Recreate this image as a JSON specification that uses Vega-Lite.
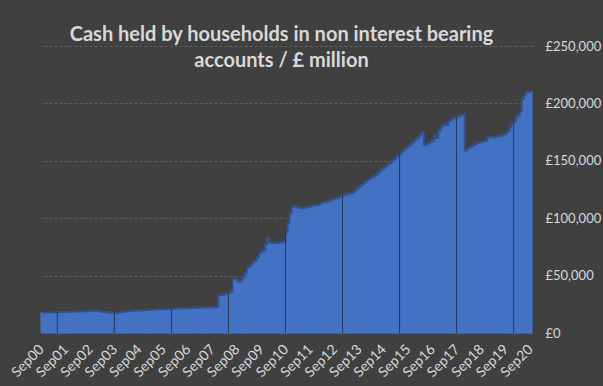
{
  "$schema": "https://vega.github.io/schema/vega-lite/v6.json",
  "width": 491,
  "height": 287,
  "autosize": {"type": "none"},
  "padding": {"left": 41, "top": 46, "right": 71, "bottom": 53},
  "background": "#404040",
  "config": {
    "view": {"stroke": null},
    "font": "Lato"
  },
  "title": {
    "text": ["Cash held by households in non interest bearing", "accounts / £ million"],
    "font": "Lato",
    "fontSize": 20,
    "fontWeight": "bold",
    "color": "#d9d9d9",
    "lineHeight": 26,
    "anchor": "middle",
    "offset": -31,
    "dx": -5
  },
  "data": {"values": [
    {"m":"Sep00","v":17700},{"m":"Oct00","v":17800},{"m":"Nov00","v":17800},{"m":"Dec00","v":17900},{"m":"Jan01","v":17900},{"m":"Feb01","v":18000},{"m":"Mar01","v":18000},{"m":"Apr01","v":18100},{"m":"May01","v":18100},{"m":"Jun01","v":18200},{"m":"Jul01","v":18200},{"m":"Aug01","v":18300},
    {"m":"Sep01","v":18300},{"m":"Oct01","v":18400},{"m":"Nov01","v":18500},{"m":"Dec01","v":18600},{"m":"Jan02","v":18600},{"m":"Feb02","v":18700},{"m":"Mar02","v":18800},{"m":"Apr02","v":18900},{"m":"May02","v":19000},{"m":"Jun02","v":19000},{"m":"Jul02","v":19100},{"m":"Aug02","v":19200},
    {"m":"Sep02","v":19200},{"m":"Oct02","v":19300},{"m":"Nov02","v":19500},{"m":"Dec02","v":19300},{"m":"Jan03","v":19000},{"m":"Feb03","v":18800},{"m":"Mar03","v":18600},{"m":"Apr03","v":18400},{"m":"May03","v":18200},{"m":"Jun03","v":18000},{"m":"Jul03","v":17800},{"m":"Aug03","v":17600},
    {"m":"Sep03","v":17400},{"m":"Oct03","v":17600},{"m":"Nov03","v":17800},{"m":"Dec03","v":18200},{"m":"Jan04","v":18500},{"m":"Feb04","v":18700},{"m":"Mar04","v":18900},{"m":"Apr04","v":19100},{"m":"May04","v":19300},{"m":"Jun04","v":19400},{"m":"Jul04","v":19500},{"m":"Aug04","v":19600},
    {"m":"Sep04","v":19700},{"m":"Oct04","v":19800},{"m":"Nov04","v":19900},{"m":"Dec04","v":20000},{"m":"Jan05","v":20100},{"m":"Feb05","v":20200},{"m":"Mar05","v":20300},{"m":"Apr05","v":20400},{"m":"May05","v":20500},{"m":"Jun05","v":20600},{"m":"Jul05","v":20600},{"m":"Aug05","v":20700},
    {"m":"Sep05","v":20800},{"m":"Oct05","v":20900},{"m":"Nov05","v":21000},{"m":"Dec05","v":21000},{"m":"Jan06","v":21100},{"m":"Feb06","v":21200},{"m":"Mar06","v":21300},{"m":"Apr06","v":21300},{"m":"May06","v":21400},{"m":"Jun06","v":21500},{"m":"Jul06","v":21500},{"m":"Aug06","v":21600},
    {"m":"Sep06","v":21700},{"m":"Oct06","v":21800},{"m":"Nov06","v":21800},{"m":"Dec06","v":21900},{"m":"Jan07","v":22000},{"m":"Feb07","v":22000},{"m":"Mar07","v":22100},{"m":"Apr07","v":22200},{"m":"May07","v":22200},{"m":"Jun07","v":22300},{"m":"Jul07","v":22300},{"m":"Aug07","v":22400},
    {"m":"Sep07","v":22500},{"m":"Oct07","v":22600},{"m":"Nov07","v":22700},{"m":"Dec07","v":33000},{"m":"Jan08","v":33500},{"m":"Feb08","v":33000},{"m":"Mar08","v":34000},{"m":"Apr08","v":34500},{"m":"May08","v":35000},{"m":"Jun08","v":36000},{"m":"Jul08","v":47000},{"m":"Aug08","v":47500},
    {"m":"Sep08","v":46000},{"m":"Oct08","v":44700},{"m":"Nov08","v":46000},{"m":"Dec08","v":49000},{"m":"Jan09","v":52000},{"m":"Feb09","v":57000},{"m":"Mar09","v":58000},{"m":"Apr09","v":60000},{"m":"May09","v":62000},{"m":"Jun09","v":63000},{"m":"Jul09","v":66000},{"m":"Aug09","v":69700},
    {"m":"Sep09","v":71000},{"m":"Oct09","v":72000},{"m":"Nov09","v":77000},{"m":"Dec09","v":82700},{"m":"Jan10","v":79000},{"m":"Feb10","v":78600},{"m":"Mar10","v":78500},{"m":"Apr10","v":78700},{"m":"May10","v":78400},{"m":"Jun10","v":78800},{"m":"Jul10","v":79000},{"m":"Aug10","v":79500},
    {"m":"Sep10","v":88000},{"m":"Oct10","v":96000},{"m":"Nov10","v":104000},{"m":"Dec10","v":110000},{"m":"Jan11","v":110500},{"m":"Feb11","v":110000},{"m":"Mar11","v":109500},{"m":"Apr11","v":109000},{"m":"May11","v":108500},{"m":"Jun11","v":109000},{"m":"Jul11","v":109500},{"m":"Aug11","v":110000},
    {"m":"Sep11","v":110500},{"m":"Oct11","v":111000},{"m":"Nov11","v":111500},{"m":"Dec11","v":111500},{"m":"Jan12","v":112000},{"m":"Feb12","v":113000},{"m":"Mar12","v":114000},{"m":"Apr12","v":114000},{"m":"May12","v":114500},{"m":"Jun12","v":115000},{"m":"Jul12","v":116000},{"m":"Aug12","v":116500},
    {"m":"Sep12","v":117000},{"m":"Oct12","v":117500},{"m":"Nov12","v":118000},{"m":"Dec12","v":119500},{"m":"Jan13","v":120000},{"m":"Feb13","v":120500},{"m":"Mar13","v":121000},{"m":"Apr13","v":121500},{"m":"May13","v":122000},{"m":"Jun13","v":123000},{"m":"Jul13","v":124500},{"m":"Aug13","v":126000},
    {"m":"Sep13","v":127500},{"m":"Oct13","v":129000},{"m":"Nov13","v":130500},{"m":"Dec13","v":131800},{"m":"Jan14","v":133000},{"m":"Feb14","v":134500},{"m":"Mar14","v":135500},{"m":"Apr14","v":136500},{"m":"May14","v":137600},{"m":"Jun14","v":139000},{"m":"Jul14","v":141000},{"m":"Aug14","v":142500},
    {"m":"Sep14","v":144000},{"m":"Oct14","v":145500},{"m":"Nov14","v":147000},{"m":"Dec14","v":148000},{"m":"Jan15","v":150000},{"m":"Feb15","v":151500},{"m":"Mar15","v":153000},{"m":"Apr15","v":155000},{"m":"May15","v":156500},{"m":"Jun15","v":158000},{"m":"Jul15","v":160000},{"m":"Aug15","v":161500},
    {"m":"Sep15","v":163000},{"m":"Oct15","v":164500},{"m":"Nov15","v":166000},{"m":"Dec15","v":167500},{"m":"Jan16","v":169500},{"m":"Feb16","v":171000},{"m":"Mar16","v":173000},{"m":"Apr16","v":175000},{"m":"May16","v":164000},{"m":"Jun16","v":164500},{"m":"Jul16","v":165500},{"m":"Aug16","v":166500},
    {"m":"Sep16","v":168000},{"m":"Oct16","v":172000},{"m":"Nov16","v":170000},{"m":"Dec16","v":176000},{"m":"Jan17","v":179000},{"m":"Feb17","v":181000},{"m":"Mar17","v":182500},{"m":"Apr17","v":181000},{"m":"May17","v":184500},{"m":"Jun17","v":186000},{"m":"Jul17","v":187000},{"m":"Aug17","v":188000},
    {"m":"Sep17","v":188500},{"m":"Oct17","v":189000},{"m":"Nov17","v":190000},{"m":"Dec17","v":190500},{"m":"Jan18","v":159000},{"m":"Feb18","v":160500},{"m":"Mar18","v":161500},{"m":"Apr18","v":162500},{"m":"May18","v":163500},{"m":"Jun18","v":164500},{"m":"Jul18","v":165500},{"m":"Aug18","v":166000},
    {"m":"Sep18","v":166500},{"m":"Oct18","v":167000},{"m":"Nov18","v":168000},{"m":"Dec18","v":170500},{"m":"Jan19","v":171000},{"m":"Feb19","v":171000},{"m":"Mar19","v":170500},{"m":"Apr19","v":171000},{"m":"May19","v":171500},{"m":"Jun19","v":171500},{"m":"Jul19","v":172000},{"m":"Aug19","v":173000},
    {"m":"Sep19","v":174000},{"m":"Oct19","v":176000},{"m":"Nov19","v":179700},{"m":"Dec19","v":183000},{"m":"Jan20","v":184000},{"m":"Feb20","v":188000},{"m":"Mar20","v":190000},{"m":"Apr20","v":193000},{"m":"May20","v":204000},{"m":"Jun20","v":207000},{"m":"Jul20","v":210000},{"m":"Aug20","v":210000},
    {"m":"Sep20","v":210000}
  ]},
  "encoding": {
    "x": {
      "field": "m",
      "type": "ordinal",
      "sort": null,
      "scale": {"type": "band", "paddingInner": 0, "paddingOuter": 0},
      "axis": {
        "title": null,
        "values": ["Sep00","Sep01","Sep02","Sep03","Sep04","Sep05","Sep06","Sep07","Sep08","Sep09","Sep10","Sep11","Sep12","Sep13","Sep14","Sep15","Sep16","Sep17","Sep18","Sep19","Sep20"],
        "labelAngle": -45,
        "labelAlign": "right",
        "labelBaseline": "middle",
        "labelFont": "Lato",
        "labelFontSize": 14,
        "labelColor": "#d9d9d9",
        "labelPadding": 14,
        "labelOverlap": false,
        "ticks": false,
        "domain": false,
        "grid": false
      }
    },
    "y": {
      "field": "v",
      "type": "quantitative",
      "scale": {"domain": [0, 250000], "nice": false},
      "axis": {
        "title": null,
        "orient": "right",
        "values": [0, 50000, 100000, 150000, 200000, 250000],
        "labelExpr": "'£' + format(datum.value, ',')",
        "labelFont": "Lato",
        "labelFontSize": 13,
        "labelColor": "#d9d9d9",
        "labelPadding": 13,
        "ticks": false,
        "domain": false,
        "grid": true,
        "gridColor": "#5e5e5e",
        "gridDash": [3, 2],
        "gridWidth": 1
      }
    }
  },
  "layer": [
    {
      "mark": {"type": "bar", "color": "#4472C4", "stroke": "#4472C4", "strokeWidth": 1}
    },
    {
      "mark": {"type": "line", "interpolate": "step", "color": "#2f5088", "strokeWidth": 2, "opacity": 0.9}
    },
    {
      "transform": [{"filter": {"field": "m", "oneOf": ["May01","Sep03","Jan06","May08","Sep10","Jan13","May15","Sep17","Jan20"]}}],
      "mark": {"type": "rule", "color": "#2a3750", "strokeWidth": 1},
      "encoding": {
        "x": {"field": "m", "type": "ordinal", "sort": null, "bandPosition": 0},
        "y": {"field": "v", "type": "quantitative"},
        "y2": {"datum": 0}
      }
    }
  ]
}
